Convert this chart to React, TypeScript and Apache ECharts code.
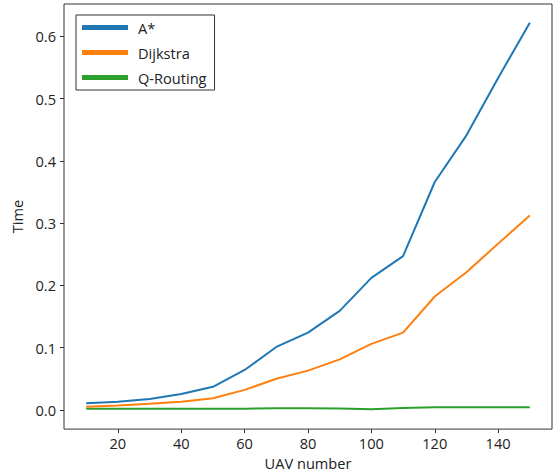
import React, { useEffect, useRef } from "react";
import * as echarts from "echarts";

const uavNumbers = [10, 20, 30, 40, 50, 60, 70, 80, 90, 100, 110, 120, 130, 140, 150];
const aStar = [0.0105, 0.013, 0.0175, 0.0255, 0.037, 0.064, 0.101, 0.124, 0.159, 0.212, 0.247, 0.366, 0.441, 0.533, 0.622];
const dijkstra = [0.005, 0.007, 0.0096, 0.013, 0.0186, 0.032, 0.05, 0.063, 0.081, 0.106, 0.124, 0.182, 0.221, 0.267, 0.312];
const qRouting = [0.0018, 0.0018, 0.0018, 0.0018, 0.0018, 0.0018, 0.0025, 0.0025, 0.0022, 0.001, 0.0028, 0.0042, 0.0042, 0.0042, 0.0042];
const seriesNames = ["A*", "Dijkstra", "Q-Routing"];
const xTicks = [20, 40, 60, 80, 100, 120, 140];
const yTicks = [0.0, 0.1, 0.2, 0.3, 0.4, 0.5, 0.6];

const FONT = "'Open Sans', 'Noto Sans', sans-serif";
const FS = 14.6;
const colors = ["#1f77b4", "#ff7f0e", "#2ca02c"];

export default function App() {
  const ref = useRef<HTMLDivElement>(null);
  useEffect(() => {
    if (!ref.current) return;
    const chart = echarts.init(ref.current, undefined, { renderer: "svg" });
    const allSeries = [aStar, dijkstra, qRouting];
    chart.setOption({
      animation: false,
      backgroundColor: "#ffffff",
      textStyle: { fontFamily: FONT },
      grid: {
        left: 64,
        right: 1,
        top: 4,
        bottom: 43,
        show: true,
        borderColor: "#333",
        borderWidth: 1,
        containLabel: false,
      },
      legend: {
        show: true,
        orient: "vertical",
        left: 76,
        top: 15,
        data: seriesNames,
        icon: "rect",
        itemWidth: 46,
        itemHeight: 5,
        itemGap: 8,
        padding: [4, 8, 4, 6],
        borderColor: "#333",
        borderWidth: 1,
        borderRadius: 0,
        backgroundColor: "#fff",
        textStyle: {
          fontFamily: FONT,
          fontSize: FS,
          color: "#222",
          lineHeight: 17,
          padding: [0, 0, 0, 5],
        },
      },
      xAxis: {
        type: "value",
        min: 3,
        max: 157,
        name: "UAV number",
        nameLocation: "middle",
        nameGap: 22,
        nameTextStyle: { fontFamily: FONT, fontSize: FS, color: "#222" },
        splitLine: { show: false },
        axisLine: { show: false, onZero: false },
        axisTick: {
          show: true,
          length: 4,
          lineStyle: { color: "#333" },
          customValues: xTicks,
        },
        axisLabel: {
          fontFamily: FONT,
          fontSize: FS,
          color: "#222",
          margin: 6,
          customValues: xTicks,
          formatter: (v: number) => String(v),
        },
      },
      yAxis: {
        type: "value",
        min: -0.031,
        max: 0.652,
        name: "Time",
        nameLocation: "middle",
        nameGap: 37,
        nameTextStyle: { fontFamily: FONT, fontSize: FS, color: "#222" },
        splitLine: { show: false },
        axisLine: { show: false, onZero: false },
        axisTick: {
          show: true,
          length: 4,
          lineStyle: { color: "#333" },
          customValues: yTicks,
        },
        axisLabel: {
          fontFamily: FONT,
          fontSize: FS,
          color: "#222",
          margin: 8,
          customValues: yTicks,
          formatter: (v: number) => v.toFixed(1),
        },
      },
      series: seriesNames.map((name, i) => ({
        name,
        type: "line",
        data: uavNumbers.map((x, j) => [x, allSeries[i][j]]),
        showSymbol: false,
        symbol: "none",
        lineStyle: { color: colors[i], width: 2 },
        itemStyle: { color: colors[i] },
        z: 3 - i,
      })),
    });
    return () => chart.dispose();
  }, []);
  return (
    <div
      ref={ref}
      style={{ position: "fixed", left: 0, top: 0, width: 553, height: 475, background: "#fff" }}
    />
  );
}
